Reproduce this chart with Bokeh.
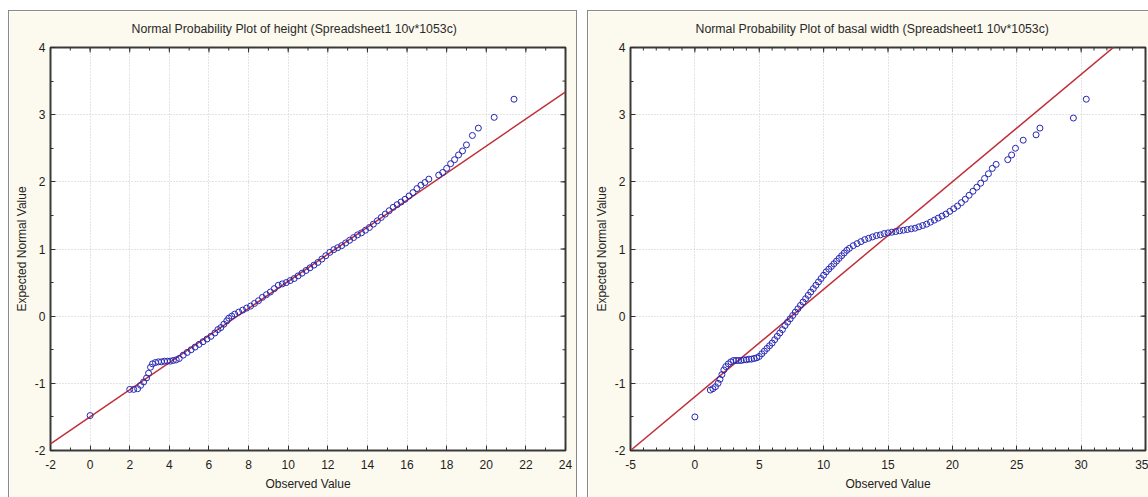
import math
from bokeh.plotting import figure
from bokeh.layouts import row
from bokeh.models import FixedTicker, ColumnDataSource
from bokeh.embed import file_html
from bokeh.resources import INLINE

# ---------------- data: height ----------------
height_obs = [0.0, 2.0, 2.2, 2.4, 2.55, 2.7, 2.85, 2.95, 3.05, 3.15, 3.3, 3.45, 3.6, 3.75, 3.9,
              4.05, 4.2, 4.35, 4.5, 4.7, 4.9, 5.1, 5.3, 5.5, 5.7, 5.9, 6.1, 6.3, 6.45, 6.6,
              6.75, 6.9, 7.0, 7.15, 7.3, 7.5, 7.7, 7.9, 8.1, 8.3, 8.5, 8.7, 8.9, 9.1, 9.3,
              9.5, 9.7, 9.9, 10.1, 10.3, 10.5, 10.7, 10.9, 11.1, 11.3, 11.5, 11.7, 11.9, 12.1,
              12.3, 12.5, 12.7, 12.9, 13.1, 13.3, 13.5, 13.7, 13.9, 14.1, 14.3, 14.5, 14.7,
              14.9, 15.1, 15.3, 15.5, 15.7, 15.9, 16.1, 16.3, 16.5, 16.7, 16.9, 17.1, 17.6,
              17.8, 18.0, 18.2, 18.4, 18.6, 18.8, 19.0, 19.3, 19.6, 20.4, 21.4]
height_exp = [-1.48, -1.09, -1.09, -1.08, -1.03, -0.98, -0.92, -0.85, -0.76, -0.71, -0.69, -0.68,
              -0.68, -0.67, -0.67, -0.67, -0.66, -0.65, -0.63, -0.58, -0.54, -0.50, -0.46, -0.42,
              -0.38, -0.34, -0.30, -0.25, -0.20, -0.17, -0.12, -0.07, -0.03, 0.00, 0.03, 0.06,
              0.09, 0.12, 0.15, 0.19, 0.23, 0.28, 0.32, 0.36, 0.41, 0.46, 0.48, 0.50, 0.53, 0.56,
              0.60, 0.64, 0.68, 0.72, 0.76, 0.80, 0.85, 0.90, 0.95, 0.99, 1.02, 1.05, 1.09, 1.13,
              1.17, 1.21, 1.24, 1.28, 1.32, 1.37, 1.42, 1.47, 1.52, 1.57, 1.62, 1.66, 1.70, 1.74,
              1.79, 1.84, 1.90, 1.95, 1.99, 2.04, 2.10, 2.14, 2.20, 2.27, 2.33, 2.40, 2.46, 2.55,
              2.69, 2.80, 2.96, 3.23]
height_fit = (-1.497, 0.2015)   # intercept, slope

# ---------------- data: basal width ----------------
basal_obs = [0.0, 1.2, 1.4, 1.6, 1.8, 1.95, 2.1, 2.25, 2.4, 2.6, 2.8, 3.0, 3.2, 3.4, 3.6, 3.8,
             4.0, 4.2, 4.4, 4.6, 4.8, 5.0, 5.2, 5.4, 5.6, 5.8, 6.0, 6.2, 6.4, 6.6, 6.8, 7.0,
             7.2, 7.4, 7.6, 7.8, 8.0, 8.2, 8.4, 8.6, 8.8, 9.0, 9.2, 9.4, 9.6, 9.8, 10.0, 10.2,
             10.4, 10.6, 10.8, 11.0, 11.2, 11.4, 11.6, 11.8, 12.0, 12.3, 12.6, 12.9, 13.2, 13.5,
             13.8, 14.1, 14.4, 14.7, 15.0, 15.3, 15.6, 15.9, 16.2, 16.5, 16.8, 17.1, 17.4, 17.7,
             18.0, 18.3, 18.6, 18.9, 19.2, 19.5, 19.8, 20.1, 20.4, 20.7, 21.0, 21.3, 21.6, 21.9,
             22.2, 22.5, 22.8, 23.1, 23.4, 24.3, 24.6, 24.9, 25.5, 26.5, 26.8, 29.4, 30.4]
basal_exp = [-1.50, -1.10, -1.08, -1.05, -1.00, -0.94, -0.87, -0.80, -0.75, -0.71, -0.68, -0.66,
             -0.66, -0.66, -0.66, -0.65, -0.65, -0.64, -0.64, -0.63, -0.62, -0.60, -0.56, -0.52,
             -0.48, -0.44, -0.40, -0.35, -0.30, -0.25, -0.20, -0.14, -0.09, -0.04, 0.01, 0.06,
             0.11, 0.16, 0.21, 0.26, 0.31, 0.36, 0.41, 0.46, 0.51, 0.56, 0.61, 0.66, 0.70, 0.74,
             0.78, 0.82, 0.86, 0.90, 0.94, 0.98, 1.01, 1.05, 1.08, 1.11, 1.14, 1.16, 1.18, 1.20,
             1.21, 1.23, 1.24, 1.25, 1.26, 1.27, 1.28, 1.29, 1.30, 1.31, 1.33, 1.35, 1.37, 1.40,
             1.43, 1.46, 1.49, 1.52, 1.56, 1.60, 1.64, 1.69, 1.74, 1.80, 1.86, 1.92, 1.98, 2.05,
             2.12, 2.20, 2.26, 2.33, 2.40, 2.50, 2.62, 2.70, 2.80, 2.95, 3.23]
basal_fit = (-1.2, 0.16)

# ---------------- axis definitions ----------------
height_xticks = [-2, 0, 2, 4, 6, 8, 10, 12, 14, 16, 18, 20, 22, 24]
basal_xticks = [-5, 0, 5, 10, 15, 20, 25, 30, 35]
yticks = [-2, -1, 0, 1, 2, 3, 4]

FONT = "Liberation Sans"
CREAM = "#fcf9ee"
POINT = "#2626b4"
LINE = "#c0303a"
TICK = "#303030"


def panel(title, xs, ys, fit, xticks, xminor, title_offset, border_css, width, margin,
          left, right):
    x0, x1 = xticks[0], xticks[-1]
    y0, y1 = yticks[0], yticks[-1]
    p = figure(width=width, height=487, x_range=(x0, x1), y_range=(y0, y1),
               output_backend="svg", toolbar_location=None,
               min_border_left=left, min_border_right=right, min_border_top=36,
               min_border_bottom=48, x_axis_label="Observed Value",
               y_axis_label="Expected Normal Value")
    p.margin = margin
    p.styles = border_css
    p.border_fill_color = CREAM
    p.background_fill_color = "white"
    p.outline_line_color = "#3a3a3a"
    p.outline_line_width = 2

    p.title.text = title
    p.title.align = "left"
    p.title.offset = title_offset
    p.title.vertical_align = "top"
    p.title.text_font = FONT
    p.title.text_font_size = "12.3px"
    p.title.text_font_style = "normal"
    p.title.text_color = "#2a2a2a"
    p.title.standoff = 20

    yminor = [v / 2 for v in range(2 * y0, 2 * y1 + 1)]
    xt = FixedTicker(ticks=xticks, minor_ticks=xminor)
    yt = FixedTicker(ticks=yticks, minor_ticks=yminor)

    for ax, tk, ticks in ((p.xaxis[0], xt, xticks), (p.yaxis[0], yt, yticks)):
        ax.ticker = tk
        ax.major_label_overrides = {t: str(t) for t in ticks}
        ax.axis_line_color = None
        ax.major_tick_in = 5
        ax.major_tick_out = 0
        ax.minor_tick_in = 3
        ax.minor_tick_out = 0
        ax.major_tick_line_color = TICK
        ax.minor_tick_line_color = TICK
        ax.major_label_text_font = FONT
        ax.major_label_text_font_size = "12px"
        ax.major_label_text_color = "#1e1e1e"
        ax.axis_label_text_font = FONT
        ax.axis_label_text_font_size = "12px"
        ax.axis_label_text_font_style = "normal"
        ax.axis_label_text_color = "#1e1e1e"
    p.xaxis[0].major_label_standoff = 9
    p.xaxis[0].axis_label_standoff = 5
    p.yaxis[0].major_label_standoff = 5
    p.yaxis[0].axis_label_standoff = 3

    p.grid.ticker = None
    p.xgrid.ticker = xt
    p.ygrid.ticker = yt
    p.grid.grid_line_color = "#c8c8c8"
    p.grid.grid_line_dash = "1 2"
    p.grid.grid_line_width = 1

    # tick marks on the top and right edges of the frame (half of each dash is clipped)
    p.scatter(xticks, [y1] * len(xticks), marker="dash", angle=math.pi / 2, size=10,
              line_color=TICK, line_width=1)
    p.scatter(xminor, [y1] * len(xminor), marker="dash", angle=math.pi / 2, size=6,
              line_color=TICK, line_width=1)
    p.scatter([x1] * len(yticks), yticks, marker="dash", size=10, line_color=TICK, line_width=1)
    p.scatter([x1] * len(yminor), yminor, marker="dash", size=6, line_color=TICK, line_width=1)

    b, m = fit
    p.line([x0, x1], [b + m * x0, b + m * x1], line_color=LINE, line_width=1.5)
    src = ColumnDataSource(dict(x=xs, y=ys))
    p.scatter("x", "y", source=src, marker="circle", size=6, fill_color=None,
              line_color=POINT, line_width=1)
    return p


p1 = panel("Normal Probability Plot of height (Spreadsheet1 10v*1053c)",
           height_obs, height_exp, height_fit, height_xticks,
           list(range(-2, 25)), 81,
           {"border-left": "1px solid #8a8a8a", "border-top": "1px solid #8a8a8a",
            "border-right": "1px solid #8a8a8a"},
           569, (10, 0, 0, 8), 41, 13)
p2 = panel("Normal Probability Plot of basal width (Spreadsheet1 10v*1053c)",
           basal_obs, basal_exp, basal_fit, basal_xticks,
           list(range(-5, 36)), 65,
           {"border-left": "1px solid #8a8a8a", "border-top": "1px solid #8a8a8a"},
           561, (10, 0, 0, 10), 42, 4)

layout = row(p1, p2)
open("out.html", "w").write(file_html(layout, INLINE))
